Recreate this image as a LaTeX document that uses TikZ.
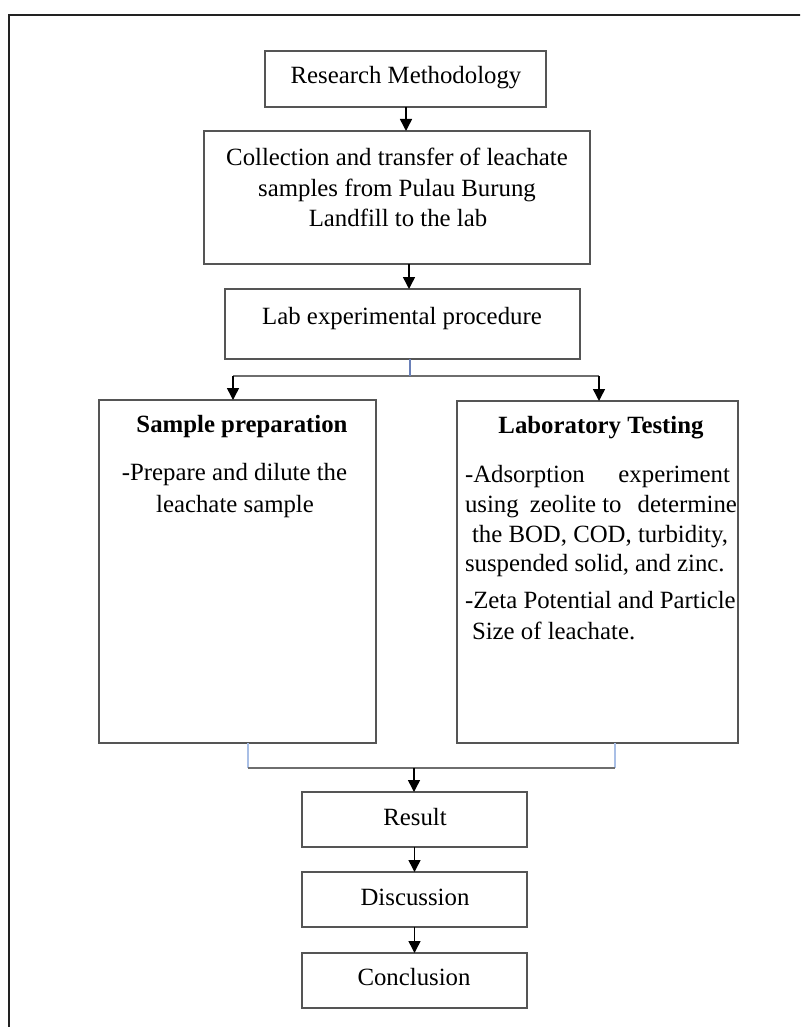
\documentclass[tikz,border=0pt]{standalone}
\usepackage{fontspec}
\setmainfont{Liberation Serif}
\usetikzlibrary{arrows.meta,calc}
\definecolor{boxgray}{HTML}{555555}
\definecolor{stemblue}{HTML}{6A80B8}
\definecolor{lightblue}{HTML}{A9BFE6}
\definecolor{linegray}{HTML}{6E6E6E}
\definecolor{framegray}{HTML}{222222}
\begin{document}
\begin{tikzpicture}[x=0.5pt,y=-0.5pt,
  box/.style={draw=boxgray,line width=1pt,inner sep=0pt,outer sep=0pt,fill=white},
  txt/.style={anchor=base,inner sep=0pt,outer sep=0pt,font=\fontsize{12.4}{15}\selectfont,text=black},
  ltxt/.style={anchor=base west,inner sep=0pt,outer sep=0pt,font=\fontsize{12.4}{15}\selectfont,text=black},
  btxt/.style={txt,font=\fontsize{12.4}{15}\selectfont\bfseries},
  arr/.style={draw=black,line width=0.75pt,-{Triangle[length=6pt,width=6pt]}},
  hline/.style={draw=linegray,line width=0.75pt},
  stem/.style={draw=stemblue,line width=0.75pt},
  lstem/.style={draw=lightblue,line width=0.9pt}]
\useasboundingbox (0,0) rectangle (800,1027);
\clip (0,0) rectangle (800,1027);
% outer frame
\draw[framegray,line width=1.1pt] (9,1040) -- (9,15) -- (810,15);

% boxes
\node[box,minimum width=140.5pt,minimum height=28pt] (rm) at (405.5,79) {};
\node[box,minimum width=193pt,minimum height=66.5pt] (col) at (397,197.5) {};
\node[box,minimum width=177.5pt,minimum height=35pt] (lab) at (402.5,324) {};
\node[box,minimum width=138.5pt,minimum height=171.5pt] (sp) at (237.5,571.5) {};
\node[box,minimum width=140.5pt,minimum height=171pt] (lt) at (597.5,572) {};
\node[box,minimum width=112.5pt,minimum height=27.5pt] (res) at (414.5,819.5) {};
\node[box,minimum width=112.5pt,minimum height=27.5pt] (dis) at (414.5,899.5) {};
\node[box,minimum width=112.5pt,minimum height=27.5pt] (con) at (414.5,980.5) {};

% texts
\node[txt] (rmt) at (406,84) {Research Methodology};
\node[txt] (colt1) at (397,166) {Collection and transfer of leachate};
\node[txt] (colt2) at (397,197) {samples from Pulau Burung};
\node[txt] (colt3) at (398,227) {Landfill to the lab};
\node[txt] (labt) at (402,324) {Lab experimental procedure};
\node[btxt] (spt) at (242,432) {Sample preparation};
\node[txt] (spb1) at (234.5,480) {-Prepare and dilute the};
\node[txt] (spb2) at (235,512) {leachate sample};
\node[btxt] (ltt) at (601,433) {Laboratory Testing};
\node[ltxt] (ltb1) at (465,482) {\makebox[132.5pt][s]{-Adsorption experiment}};
\node[ltxt] (ltb2) at (465,512) {using\hspace{2.5pt} zeolite to\hspace{5pt} determine};
\node[ltxt] (ltb3) at (472,542) {the BOD, COD, turbidity,};
\node[ltxt] (ltb4) at (465,571) {suspended solid, and zinc.};
\node[ltxt] (ltb5) at (465,608) {-Zeta Potential and Particle};
\node[ltxt] (ltb6) at (472,639) {Size of leachate.};
\node[txt] (rest) at (415,825) {Result};
\node[txt] (dist) at (415,905) {Discussion};
\node[txt] (cont) at (414,985) {Conclusion};

% connectors
\draw[arr] (rm.south -| 406,0) -- (406,0 |- col.north);
\coordinate (c2) at (409,264);
\draw[arr] (c2) -- (c2 |- lab.north);
\coordinate (split) at (410,376);
\coordinate (spin) at (233,400);
\coordinate (ltin) at (599,401);
\draw[hline] (spin |- split) -- (ltin |- split);
\draw[stem] (lab.south -| split) -- (split);
\draw[arr] (spin |- split) -- (spin);
\draw[arr] (ltin |- split) -- (ltin);
\coordinate (join) at (414,768);
\coordinate (spout) at (248,743);
\coordinate (ltout) at (615,743);
\draw[lstem] (spout) -- (spout |- join);
\draw[lstem] (ltout) -- (ltout |- join);
\draw[hline] (spout |- join) -- (ltout |- join);
\draw[arr] (join) -- (join |- res.north);
\draw[arr] (res.south) -- (dis.north);
\draw[arr] (dis.south) -- (con.north);
\end{tikzpicture}
\end{document}
